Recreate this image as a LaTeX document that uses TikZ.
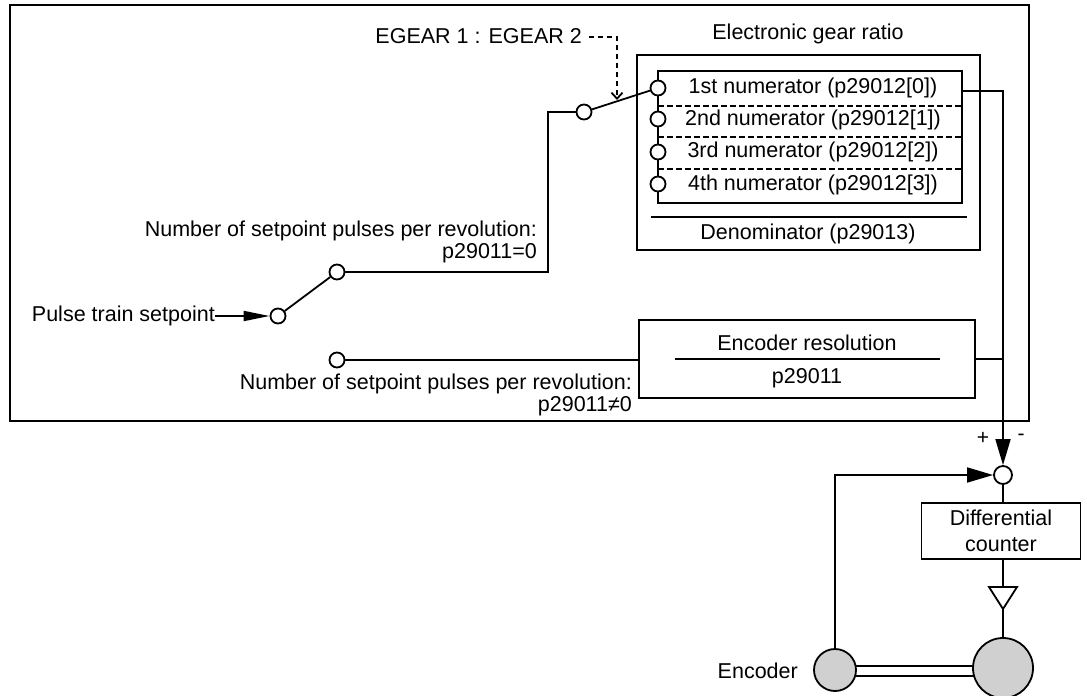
\documentclass[tikz,border=0pt]{standalone}
\usepackage{fontspec}
\setmainfont{Liberation Sans}
\usetikzlibrary{arrows.meta}
\definecolor{motorgray}{RGB}{208,208,208}
\begin{document}
\begin{tikzpicture}[x=1pt,y=-1pt,
  every node/.style={font=\fontsize{21.5}{22}\selectfont, inner sep=0pt},
  wire/.style={line width=1.8pt},
  box/.style={draw, line width=1.8pt, inner sep=0pt},
  circ/.style={circle, draw, line width=1.8pt, fill=white, inner sep=0pt, minimum size=15pt},
  sumc/.style={circle, draw, line width=1.8pt, fill=white, inner sep=0pt, minimum size=18pt},
  rot/.style={circle, draw, line width=1.8pt, fill=motorgray, inner sep=0pt},
  dashwire/.style={line width=1.8pt, dash pattern=on 5pt off 4pt},
  divider/.style={line width=1.8pt, dash pattern=on 6pt off 3pt},
  bigtip/.style={-{Triangle[length=26pt,width=15pt]}},
  smalltip/.style={-{Triangle[length=26pt,width=10pt]}},
  barbtip/.style={-{Straight Barb[length=6pt,width=11pt]}},
  signlabel/.style={font=\fontsize{21}{21}\selectfont}
]
\useasboundingbox (0,0) rectangle (1087,696);

% outer frame
\node[box, minimum width=1019pt, minimum height=416pt] (frame) at (519.5,213) {};

% electronic gear ratio
\node (egtitle) at (808,34) {Electronic gear ratio};
\node[box, minimum width=343pt, minimum height=195pt] (gear) at (808.5,152.5) {};
\node[box, minimum width=304pt, minimum height=132pt] (num) at (810,137) {};
\draw[divider] (658,106) -- (962,106);
\draw[divider] (658,137) -- (962,137);
\draw[divider] (658,169) -- (962,169);
\draw[wire] (651,217) -- (967,217);
\node (den) at (808,234) {Denominator (p29013)};
\node[circ] (n1) at (658,88) {};
\node[circ] (n2) at (658,119) {};
\node[circ] (n3) at (658,152) {};
\node[circ] (n4) at (658,184) {};
\node (t1) at (813,88) {1st numerator (p29012[0])};
\node (t2) at (813,120) {2nd numerator (p29012[1])};
\node (t3) at (813,152) {3rd numerator (p29012[2])};
\node (t4) at (813,185) {4th numerator (p29012[3])};

% selector switch
\node[circ] (sw) at (584,112) {};
\draw[wire] (sw) -- (n1);
\node[anchor=east] (eg) at (582,36) {EGEAR 1 : EGEAR 2};
\coordinate (egtip) at (617,100);
\draw[dashwire, barbtip] ([xshift=7pt,yshift=-1pt]eg.east) -| (egtip);

% input switch
\node[circ] (c1) at (278,316) {};
\node[circ] (c2) at (337,272) {};
\node[circ] (c3) at (337,360) {};
\coordinate (k1) at (548,112);
\coordinate (k2) at (548,272);
\draw[wire] (sw.west) -- (k1) -- (k2) -- (c2.east);
\draw[wire] (c1) -- (c2);
\node[anchor=east] (pt) at (215,316) {Pulse train setpoint};
\draw[wire, smalltip] (pt.east) -- (c1.west);
\node[anchor=east, align=right] (lab1) at (537,242) {Number of setpoint pulses per revolution:\\p29011=0};
\node[anchor=east, align=right] (lab2) at (632,395) {Number of setpoint pulses per revolution:\\p29011≠0};

% encoder resolution
\node[box, minimum width=336pt, minimum height=78pt] (enc) at (807,359) {};
\node (et) at (807,343) {Encoder resolution};
\node (ev) at (807,378) {p29011};
\draw[wire] (675,359) -- (940,359);
\draw[wire] (c3.east) -- (c3.east -| enc.west);

% summing point
\node[sumc] (sum) at (1003,475) {};
\coordinate (o1) at (962,91);
\draw[wire, bigtip] (o1) -| (sum.north);
\draw[wire] (enc.east) -- (enc.east -| sum);
\node[signlabel] at (983,438) {+};
\node[signlabel] at (1021,437) {-};

% differential counter
\node[box, minimum width=159pt, minimum height=56pt, align=center] (diff) at (1001,531) {Differential\\[4pt]counter};
\draw[wire] (sum.south) -- (sum.south |- diff.north);

% amplifier
\coordinate (ampT) at (1003,587);
\coordinate (ampB) at (1003,609);
\draw[wire] (diff.south -| sum) -- (ampT);
\draw[wire, fill=white] (989,587) -- (1017,587) -- (ampB) -- cycle;

% motor and encoder
\draw[wire, fill=white] (835,666) rectangle (1003,676);
\node[rot, minimum size=60pt] (motor) at (1003,668) {};
\node[rot, minimum size=42pt] (encd) at (835,670) {};
\draw[wire] (ampB) -- (motor.north);
\draw[wire, bigtip] (encd.north) |- (sum.west);
\node[anchor=east] (enclab) at (798,671) {Encoder};
\end{tikzpicture}
\end{document}
